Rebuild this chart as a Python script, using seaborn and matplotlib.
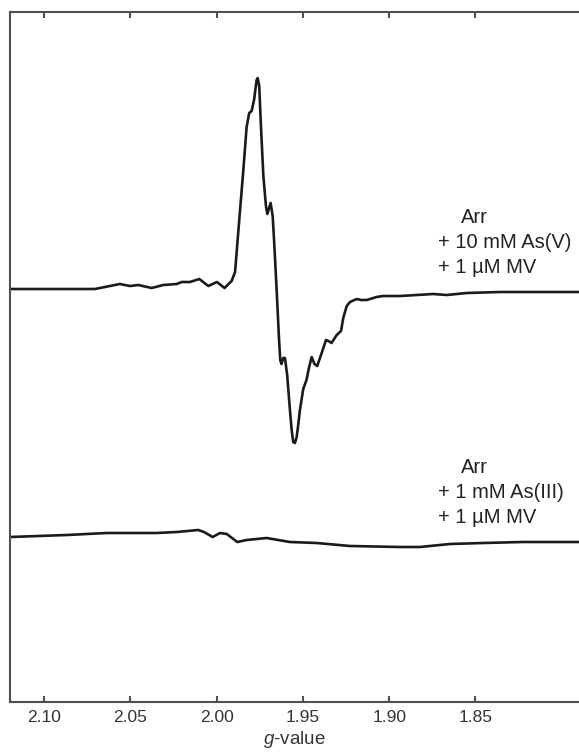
import matplotlib
matplotlib.use('Agg')
import matplotlib.pyplot as plt
import numpy as np
import pandas as pd
import seaborn as sns

# data ----------------------------------------------------------------------
# upper trace: Arr + 10 mM As(V) + 1 uM MV
g_asv = [2.1197, 2.0907, 2.0705, 2.0618, 2.0560, 2.0502, 2.0454, 2.0376, 2.0309,
         2.0231, 2.0202, 2.0154, 2.0100, 2.0048, 1.9998, 1.9954, 1.9913, 1.9893,
         1.9864, 1.9845, 1.9826, 1.9811, 1.9797, 1.9783, 1.9768, 1.9762, 1.9753,
         1.9743, 1.9729, 1.9714, 1.9706, 1.9687, 1.9675, 1.9667, 1.9652, 1.9638,
         1.9631, 1.9624, 1.9614, 1.9604, 1.9591, 1.9575, 1.9565, 1.9556, 1.9546,
         1.9536, 1.9527, 1.9517, 1.9498, 1.9479, 1.9465, 1.9449, 1.9433, 1.9417,
         1.9391, 1.9366, 1.9352, 1.9334, 1.9304, 1.9279, 1.9266, 1.9246, 1.9227,
         1.9188, 1.9163, 1.9130, 1.9073, 1.9034, 1.8937, 1.8744, 1.8667, 1.8551,
         1.8358, 1.8126, 1.7900]
i_asv = [0.00, 0.00, 0.00, 0.03, 0.05, 0.03, 0.04, 0.01, 0.04,
         0.05, 0.07, 0.07, 0.10, 0.03, 0.07, 0.01, 0.08, 0.17,
         0.79, 1.19, 1.62, 1.76, 1.78, 1.89, 2.09, 2.11, 2.03,
         1.63, 1.13, 0.83, 0.75, 0.86, 0.73, 0.49, -0.01, -0.51,
         -0.71, -0.75, -0.69, -0.69, -0.86, -1.21, -1.41, -1.53, -1.54,
         -1.48, -1.36, -1.21, -1.00, -0.91, -0.79, -0.68, -0.75, -0.77,
         -0.64, -0.51, -0.52, -0.54, -0.46, -0.42, -0.29, -0.17, -0.13,
         -0.10, -0.11, -0.11, -0.08, -0.07, -0.07, -0.05, -0.06, -0.04,
         -0.03, -0.03, -0.03]

# lower trace: Arr + 1 mM As(III) + 1 uM MV
g_asiii = [2.1197, 2.0868, 2.0637, 2.0347, 2.0231, 2.0106, 2.0073, 2.0023, 1.9980,
           1.9941, 1.9880, 1.9826, 1.9710, 1.9575, 1.9420, 1.9227, 1.8937, 1.8822,
           1.8648, 1.8455, 1.8227, 1.7900]
i_asiii = [0.00, 0.02, 0.04, 0.04, 0.05, 0.07, 0.05, 0.00, 0.04,
           0.03, -0.05, -0.03, -0.01, -0.05, -0.06, -0.09, -0.10, -0.10,
           -0.07, -0.06, -0.05, -0.05]

offset_asv = 0.0
offset_asiii = -2.48

xticks = [2.10, 2.05, 2.00, 1.95, 1.90, 1.85]
labels_asv = ['Arr', '+ 10 mM As(V)', '+ 1 µM MV']
labels_asiii = ['Arr', '+ 1 mM As(III)', '+ 1 µM MV']

#style -----------------------------------------------------------------------
sns.set_style('white')
plt.rcParams['font.family'] = ['Liberation Sans', 'DejaVu Sans']
plt.rcParams['mathtext.fontset'] = 'custom'
plt.rcParams['mathtext.it'] = 'Liberation Sans:italic'
plt.rcParams['mathtext.rm'] = 'Liberation Sans'

spine_c = '#505050'
line_c = '#1a1a1a'

fig = plt.figure(figsize=(5.79, 7.55), dpi=100)
ax = fig.add_axes([0.0173, 0.0702, 1.0 - 0.0173, 0.9841 - 0.0702])

df_asv = pd.DataFrame({'g': g_asv, 'i': np.array(i_asv) + offset_asv})
df_asiii = pd.DataFrame({'g': g_asiii, 'i': np.array(i_asiii) + offset_asiii})
sns.lineplot(data=df_asv, x='g', y='i', sort=False, estimator=None,
             color=line_c, linewidth=1.9, ax=ax)
sns.lineplot(data=df_asiii, x='g', y='i', sort=False, estimator=None,
             color=line_c, linewidth=1.9, ax=ax)

ax.set_xlim(2.1197, 1.7900)
ax.set_ylim(-4.13, 2.77)
ax.set_xticks(xticks)
ax.set_xticklabels([f'{t:.2f}' for t in xticks])
ax.set_yticks([])
ax.set_ylabel('')
ax.set_xlabel('$g$-value', fontsize=13.5, color='#333333', labelpad=3)

for s in ['left', 'bottom', 'top']:
    ax.spines[s].set_color(spine_c)
    ax.spines[s].set_linewidth(1.5)
ax.spines['right'].set_visible(False)
ax.tick_params(axis='x', direction='in', top=True, bottom=True, length=4.5,
               width=1.5, color=spine_c, labelsize=12.5, labelcolor='#333333', pad=6)

# labels next to each trace
for k, (lines, ys) in enumerate([(labels_asv, [0.72, 0.47, 0.22]),
                                 (labels_asiii, [-1.78, -2.03, -2.28])]):
    for j, (t, y) in enumerate(zip(lines, ys)):
        x = 1.8584 if j == 0 else 1.8717
        ax.text(x, y, t, fontsize=14.5, color='#222222', ha='left', va='center')

fig.savefig('out.png', dpi=100)
